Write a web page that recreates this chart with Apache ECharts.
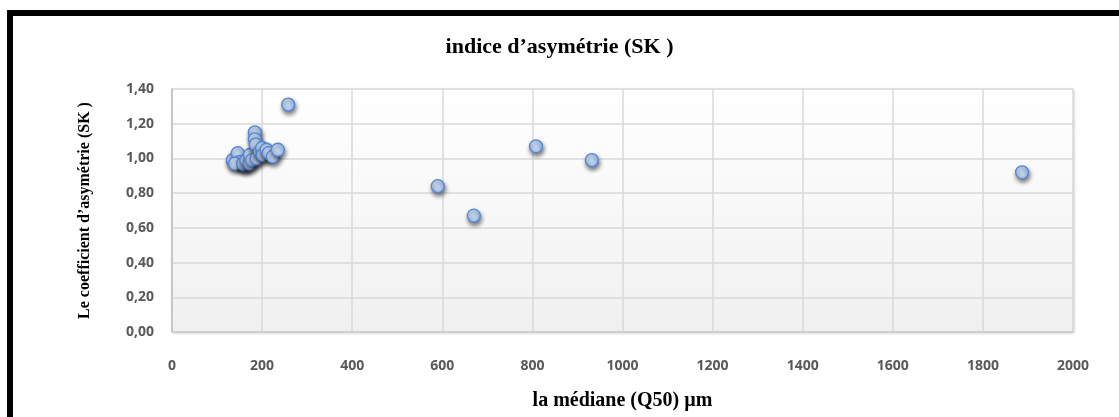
<!DOCTYPE html>
<html><head><meta charset="utf-8">
<script src="https://cdn.jsdelivr.net/npm/echarts@6/dist/echarts.min.js"></script>
<style>html,body{margin:0;padding:0;background:#fff}#c{width:1119px;height:417px}</style>
</head><body><div id="c"></div>
<script>
const titleText = "indice d\u2019asymétrie (SK )";
const xName = "la médiane (Q50) µm";
const yName = "Le coefficient d\u2019asymétrie (SK )";
const medianQ50 = [135, 146, 151, 140, 162, 158, 165, 173, 173, 178, 184, 184, 186, 188, 195, 200, 202, 210, 215, 224, 235, 258, 590, 670, 808, 932, 1887];
const skewness  = [0.99, 1.03, 0.98, 0.97, 0.96, 0.97, 0.99, 1.02, 0.97, 0.99, 1.15, 1.11, 1.08, 1.00, 1.04, 1.06, 1.02, 1.05, 1.03, 1.01, 1.05, 1.31, 0.84, 0.67, 1.07, 0.99, 0.92];
const points = medianQ50.map((x, i) => [x, skewness[i]]);

const chart = echarts.init(document.getElementById('c'));
chart.setOption({
  animation: false,
  backgroundColor: '#fff',
  title: {
    text: titleText, left: 'center', top: 31,
    textStyle: { fontFamily: 'Liberation Serif', fontWeight: 'bold', fontSize: 22, color: '#000' }
  },
  graphic: [{
    type: 'polyline', shape: { points: [[10, 430], [10, 13], [1130, 13]] },
    style: { stroke: '#000', lineWidth: 6, fill: null }, z: 100
  }],
  grid: {
    left: 172, right: 46, top: 89, bottom: 85, show: true, borderWidth: 0,
    backgroundColor: new echarts.graphic.LinearGradient(0, 0, 0, 1, [
      { offset: 0, color: '#ffffff' }, { offset: 1, color: '#f0f0f0' }
    ]),
    shadowColor: 'rgba(0,0,0,0.25)', shadowBlur: 3, shadowOffsetX: 1, shadowOffsetY: 1
  },
  xAxis: {
    type: 'value', min: 0, max: 2000, interval: 200,
    name: xName, nameLocation: 'middle', nameGap: 59,
    nameTextStyle: { fontFamily: 'Liberation Serif', fontWeight: 'bold', fontSize: 20, color: '#000' },
    axisLine: { show: true, lineStyle: { color: '#d0d0d0', width: 2 } },
    axisTick: { show: false },
    axisLabel: { margin: 27, color: '#595959', fontFamily: 'Open Sans', fontWeight: 'bold', fontSize: 14,
      formatter: v => String(v) },
    splitLine: { show: true, lineStyle: { color: '#d9d9d9', width: 1.5 } }
  },
  yAxis: {
    type: 'value', min: 0, max: 1.4, interval: 0.2,
    name: yName, nameLocation: 'middle', nameGap: 79, nameRotate: 90,
    nameTextStyle: { fontFamily: 'Liberation Serif', fontWeight: 'bold', fontSize: 16, color: '#000' },
    axisLine: { show: true, lineStyle: { color: '#bfbfbf', width: 1.5 } },
    axisTick: { show: false },
    axisLabel: { margin: 18, color: '#595959', fontFamily: 'Open Sans', fontWeight: 'bold', fontSize: 14,
      formatter: v => v.toFixed(2).replace('.', ',') },
    splitLine: { show: true, lineStyle: { color: '#d9d9d9', width: 1.5 } }
  },
  series: [{
    type: 'scatter', data: points, symbol: 'circle', symbolSize: 13,
    itemStyle: {
      color: new echarts.graphic.RadialGradient(0.4, 0.4, 0.7, [
        { offset: 0, color: '#d6e5f9' }, { offset: 0.7, color: '#abc8f0' }, { offset: 1, color: '#86ace4' }
      ]),
      borderColor: '#5686d4', borderWidth: 1.3,
      shadowColor: 'rgba(0,0,0,0.5)', shadowBlur: 4, shadowOffsetX: 1, shadowOffsetY: 3,
      opacity: 1
    }
  }]
});
</script></body></html>
